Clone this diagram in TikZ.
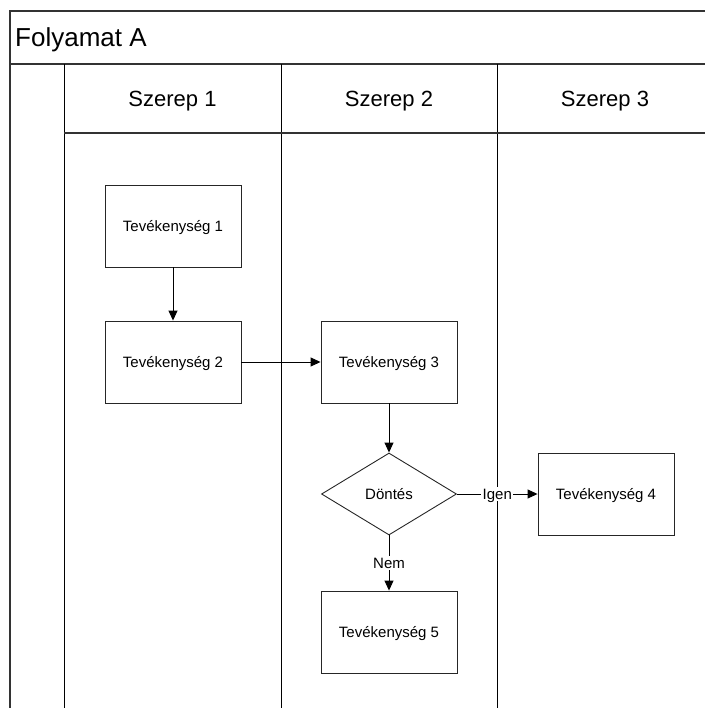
\documentclass[tikz,border=0pt]{standalone}
\usepackage{fontspec}
\setmainfont{Liberation Sans}
\usetikzlibrary{shapes.geometric,arrows.meta}
\begin{document}
\begin{tikzpicture}[x=1bp,y=-1bp,
  frame/.style={draw=black!80, line width=1.1bp},
  lane/.style={draw=black, line width=0.9bp},
  boxtext/.style={font=\fontsize{15bp}{18bp}\selectfont, text height=10.7bp, text depth=0pt},
  task/.style={draw=black!85, line width=0.9bp, minimum width=136bp, minimum height=82bp,
    inner sep=0pt, boxtext},
  decision/.style={draw=black!85, diamond, line width=0.9bp, minimum width=135bp,
    minimum height=82bp, inner sep=0pt, boxtext},
  flow/.style={draw=black, line width=0.9bp, -{Triangle[length=10bp,width=9bp]}},
  lbl/.style={fill=white, inner sep=1.5bp, boxtext},
  pooltitle/.style={anchor=base west, inner sep=0pt, font=\fontsize{26bp}{30bp}\selectfont},
  lanetitle/.style={anchor=base, inner sep=0pt, font=\fontsize{22bp}{26bp}\selectfont}]
  \useasboundingbox (0,0) rectangle (705,708);
  \begin{scope}
    \clip (0,0) rectangle (705,708);
    % pool frame and header band
    \draw[frame] (730,11) -- (10,11) -- (10,720);
    \draw[frame] (10,64) -- (730,64);
    % lane separators and lane header band
    \draw[lane] (64,64) -- (64,720);
    \draw[lane] (281,64) -- (281,720);
    \draw[lane] (497,64) -- (497,720);
    \draw[frame] (64,133) -- (730,133);
  \end{scope}

  \node[pooltitle] (pool) at (15,47) {Folyamat A};
  \node[lanetitle] (r1) at (172.5,107) {Szerep 1};
  \node[lanetitle] (r2) at (389,107) {Szerep 2};
  \node[lanetitle] (r3) at (605,107) {Szerep 3};

  % activities
  \node[task] (t1) at (173,226) {Tevékenység 1};
  \node[task] (t2) at (173,362) {Tevékenység 2};
  \node[task] (t3) at (389,362) {Tevékenység 3};
  \node[decision] (d) at (389,494) {Döntés};
  \node[task] (t4) at (606,494) {Tevékenység 4};
  \node[task] (t5) at (389,632) {Tevékenység 5};

  % sequence flows
  \draw[flow] (t1) -- (t2);
  \draw[flow] (t2) -- (t3);
  \draw[flow] (t3) -- (d);
  \draw[flow] (d) -- node[lbl] {Igen} (t4);
  \draw[flow] (d) -- node[lbl] {Nem} (t5);
\end{tikzpicture}
\end{document}
